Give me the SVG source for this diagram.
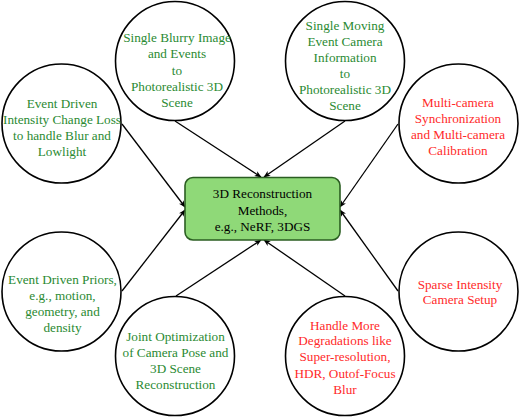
<svg xmlns="http://www.w3.org/2000/svg" width="520" height="418" viewBox="0 0 520 418">
<style>
.c{fill:#fff;stroke:#000;stroke-width:1.6}
.t{font-size:13.2px;text-anchor:middle}
.g{fill:#2a8a32}
.r{fill:#ff2a2a}
.k{fill:#000}
.a{stroke:#000;stroke-width:1.3;fill:none;marker-end:url(#ah)}
</style>
<defs>
<marker id="ah" viewBox="0 0 10 10" refX="9" refY="5" markerWidth="7" markerHeight="7" markerUnits="userSpaceOnUse" orient="auto">
<path d="M0,1 L10,5 L0,9 L2.5,5 Z" fill="#000"/>
</marker>
</defs>
<rect width="520" height="418" fill="#fff"/>
<g id="connectors">
<line class="a" x1="175" y1="121" x2="261" y2="177"/>
<line class="a" x1="345" y1="121" x2="264" y2="177"/>
<line class="a" x1="122" y1="124" x2="185" y2="207"/>
<line class="a" x1="398" y1="124" x2="340" y2="207"/>
<line class="a" x1="122" y1="291" x2="185" y2="210"/>
<line class="a" x1="398" y1="291" x2="340" y2="210"/>
<line class="a" x1="176" y1="296" x2="261" y2="240"/>
<line class="a" x1="345" y1="296" x2="264" y2="240"/>
</g>
<g font-family="Liberation Serif, DejaVu Serif, serif">
<g id="center">
<rect x="185" y="177.5" width="155" height="62.5" rx="8" fill="#8fd978" stroke="#2b5e22" stroke-width="1.6"/>
<text class="t k" x="262.5" y="198">3D Reconstruction</text>
<text class="t k" x="262.5" y="215">Methods,</text>
<text class="t k" x="262.5" y="231">e.g., NeRF, 3DGS</text>
</g>
<g id="n-blurry">
<circle class="c" cx="175" cy="61" r="59.5"/>
<text class="t g" x="177" y="42">Single Blurry Image</text>
<text class="t g" x="177" y="58">and Events</text>
<text class="t g" x="177" y="74.5">to</text>
<text class="t g" x="177" y="91">Photorealistic 3D</text>
<text class="t g" x="177" y="107">Scene</text>
</g>
<g id="n-moving">
<circle class="c" cx="345" cy="61" r="59.5"/>
<text class="t g" x="345" y="30">Single Moving</text>
<text class="t g" x="345" y="46">Event Camera</text>
<text class="t g" x="345" y="62">Information</text>
<text class="t g" x="345" y="78">to</text>
<text class="t g" x="345" y="94">Photorealistic 3D</text>
<text class="t g" x="345" y="110">Scene</text>
</g>
<g id="n-intensity">
<circle class="c" cx="61.5" cy="123.5" r="59.5"/>
<text class="t g" x="62" y="108">Event Driven</text>
<text class="t g" x="62" y="124">Intensity Change Loss</text>
<text class="t g" x="62" y="140">to handle Blur and</text>
<text class="t g" x="62" y="156">Lowlight</text>
</g>
<g id="n-multicam">
<circle class="c" cx="458.5" cy="123.5" r="59.5"/>
<text class="t r" x="458" y="107">Multi-camera</text>
<text class="t r" x="458" y="123">Synchronization</text>
<text class="t r" x="458" y="139">and Multi-camera</text>
<text class="t r" x="458" y="155">Calibration</text>
</g>
<g id="n-priors">
<circle class="c" cx="61.5" cy="291.5" r="59.5"/>
<text class="t g" x="62.5" y="284">Event Driven Priors,</text>
<text class="t g" x="62.5" y="300">e.g., motion,</text>
<text class="t g" x="62.5" y="316">geometry, and</text>
<text class="t g" x="62.5" y="332">density</text>
</g>
<g id="n-sparse">
<circle class="c" cx="458.5" cy="291.5" r="59.5"/>
<text class="t r" x="460" y="289">Sparse Intensity</text>
<text class="t r" x="460" y="304">Camera Setup</text>
</g>
<g id="n-joint">
<circle class="c" cx="175" cy="356" r="59.5"/>
<text class="t g" x="175.5" y="341">Joint Optimization</text>
<text class="t g" x="175.5" y="357">of Camera Pose and</text>
<text class="t g" x="175.5" y="373">3D Scene</text>
<text class="t g" x="175.5" y="389">Reconstruction</text>
</g>
<g id="n-handle">
<circle class="c" cx="345" cy="356" r="59.5"/>
<text class="t r" x="345" y="330">Handle More</text>
<text class="t r" x="345" y="345">Degradations like</text>
<text class="t r" x="345" y="361">Super-resolution,</text>
<text class="t r" x="345" y="378">HDR, Outof-Focus</text>
<text class="t r" x="345" y="394">Blur</text>
</g>
</g>
</svg>
